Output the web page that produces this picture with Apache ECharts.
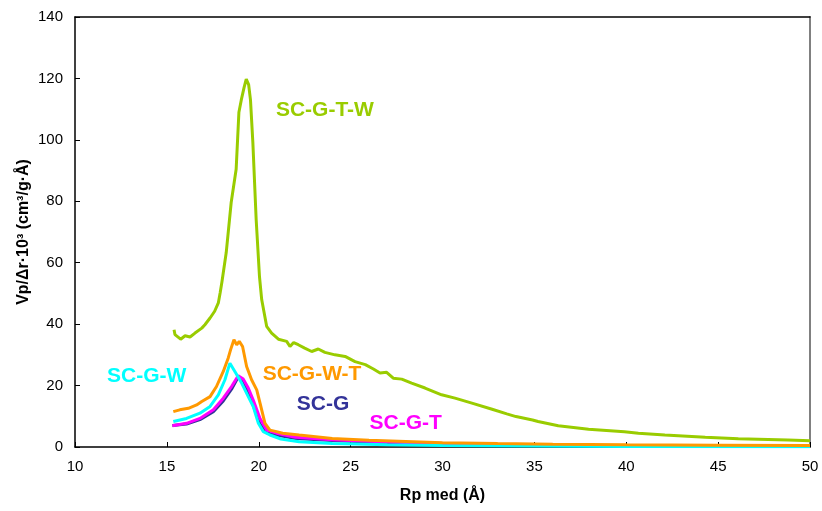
<!DOCTYPE html>
<html>
<head>
<meta charset="utf-8">
<script src="https://cdn.jsdelivr.net/npm/echarts@6/dist/echarts.min.js"></script>
<style>html,body{margin:0;padding:0;background:#fff}#c{width:822px;height:511px}</style>
</head>
<body>
<div id="c"></div>
<script>
// SC-G-T-W (green)
var gx = [15.39, 15.44, 15.75, 15.99, 16.26, 16.53, 16.9, 17.07, 17.35, 17.6, 17.8, 17.9, 18.0, 18.23, 18.5, 18.77, 18.92, 19.05, 19.2, 19.32, 19.45, 19.55, 19.68, 19.86, 20.04, 20.16, 20.43, 20.7, 21.07, 21.52, 21.7, 21.9, 22.15, 22.5, 22.88, 23.24, 23.6, 24.15, 24.7, 25.24, 25.8, 26.24, 26.6, 26.96, 27.32, 27.78, 28.32, 29.05, 29.95, 30.68, 31.6, 32.7, 33.5, 34.0, 34.9, 35.2, 36.3, 37.95, 39.9, 40.66, 42.1, 44.3, 46.1, 48.8, 50];
var gy = [38.2, 36.6, 35.1, 36.2, 35.8, 37.1, 38.7, 39.8, 42, 44.2, 46.9, 50.2, 53.9, 63.3, 79.6, 90.4, 109, 113, 117, 119.8, 118, 113, 99, 74, 55.5, 48, 39.3, 37.1, 35.1, 34.4, 32.7, 34.0, 33.3, 32.2, 31.1, 31.9, 30.8, 30.0, 29.5, 27.8, 26.8, 25.4, 24.1, 24.3, 22.4, 22.1, 20.8, 19.2, 17, 15.9, 14.3, 12.3, 10.8, 9.9, 8.8, 8.3, 6.9, 5.8, 5.0, 4.5, 3.9, 3.2, 2.7, 2.3, 2.0];
// SC-G-W-T (orange)
var ox = [15.35, 15.7, 16.17, 16.62, 16.9, 17.35, 17.7, 18.07, 18.34, 18.47, 18.65, 18.8, 18.94, 19.12, 19.34, 19.61, 19.89, 20.07, 20.34, 20.61, 20.97, 21.3, 22.2, 24.0, 26, 28, 30, 33, 36, 40, 45, 50];
var oy = [11.5, 12.1, 12.6, 13.7, 14.8, 16.4, 19.7, 24.6, 29, 31.7, 34.9, 33.3, 34.4, 32.7, 26.2, 21.9, 18.6, 14.3, 7.7, 5.5, 5.0, 4.5, 3.9, 2.8, 2.2, 1.8, 1.4, 1.1, 0.9, 0.7, 0.6, 0.5];
// SC-G-W (cyan)
var cx = [15.35, 16.07, 16.8, 17.35, 17.8, 18.16, 18.43, 18.52, 18.7, 19.07, 19.43, 19.7, 19.98, 20.25, 20.61, 21.2, 22.2, 24, 27, 30, 35, 40, 50];
var cy = [8.3, 9.3, 11.0, 13.2, 17, 21.9, 27.3, 27.8, 24.6, 20.8, 16.4, 13.2, 7.7, 5.0, 3.9, 2.6, 1.7, 1.1, 0.7, 0.5, 0.3, 0.2, 0.1];
// SC-G-T (magenta)
var mx = [15.3, 16.07, 16.8, 17.53, 18.07, 18.52, 18.88, 19.16, 19.43, 19.7, 20.07, 20.43, 20.97, 22, 24, 27, 30, 35, 40, 50];
var my = [6.9, 7.7, 9.3, 12.1, 15.9, 19.7, 23.2, 22.1, 19.2, 15.3, 9.3, 5.5, 4.5, 3.2, 2.4, 1.6, 1.1, 0.6, 0.4, 0.2];
// SC-G (navy)
var nx = [15.3, 16.07, 16.8, 17.53, 18.07, 18.52, 18.88, 19.1, 19.43, 19.7, 20.07, 20.43, 20.97, 22, 24, 27, 30, 35, 40, 50];
var ny = [7.0, 7.5, 8.9, 11.5, 15.0, 18.8, 22.8, 22.0, 18.0, 13.5, 7.5, 4.6, 3.9, 2.8, 2.1, 1.4, 0.9, 0.5, 0.3, 0.2];

var seriesNames = ['SC-G', 'SC-G-T', 'SC-G-W', 'SC-G-W-T', 'SC-G-T-W'];
var xTicks = [10, 15, 20, 25, 30, 35, 40, 45, 50];
var yTicks = [0, 20, 40, 60, 80, 100, 120, 140];

function pairs(xs, ys) { return xs.map(function (x, i) { return [x, ys[i]]; }); }

var FONT = '"Liberation Sans", Arial, sans-serif';
function mk(name, xs, ys, color, labelCoord) {
  return {
    name: name, type: 'line', data: pairs(xs, ys), showSymbol: false, symbol: 'none',
    lineStyle: { color: color, width: 3 }, itemStyle: { color: color }, animation: false,
    markPoint: {
      symbol: 'circle', symbolSize: 0, animation: false,
      data: [{ coord: labelCoord, value: name }],
      label: { show: true, position: 'inside', formatter: name, color: color,
        fontFamily: FONT, fontWeight: 'bold', fontSize: 21 }
    }
  };
}

var chart = echarts.init(document.getElementById('c'), null, { renderer: 'canvas' });
chart.setOption({
  backgroundColor: '#fff',
  animation: false,
  grid: { left: 75, right: 12, top: 17, bottom: 64, containLabel: false },
  xAxis: [{
    type: 'value', min: xTicks[0], max: xTicks[xTicks.length - 1], interval: 5,
    name: 'Rp med (Å)', nameLocation: 'middle', nameGap: 41,
    nameTextStyle: { fontFamily: FONT, fontWeight: 'bold', fontSize: 16, color: '#000' },
    axisLine: { show: true, lineStyle: { color: '#000', width: 1.5 } },
    axisTick: { show: true, inside: true, length: 5, lineStyle: { color: '#000' } },
    axisLabel: { margin: 12, fontFamily: FONT, fontSize: 15, color: '#000' },
    splitLine: { show: false }
  }, {
    type: 'value', position: 'top', min: 10, max: 50,
    axisLine: { show: true, onZero: false, lineStyle: { color: '#000', width: 1.5 } },
    axisTick: { show: false }, axisLabel: { show: false }, splitLine: { show: false }
  }],
  yAxis: [{
    type: 'value', min: yTicks[0], max: yTicks[yTicks.length - 1], interval: 20,
    name: 'Vp/Δr·10³ (cm³/g·Å)', nameLocation: 'middle', nameGap: 43, nameRotate: 90,
    nameMoveOverlap: false,
    nameTextStyle: { fontFamily: FONT, fontWeight: 'bold', fontSize: 16, color: '#000' },
    axisLine: { show: true, lineStyle: { color: '#000', width: 1.5 } },
    axisTick: { show: true, inside: true, length: 5, lineStyle: { color: '#000' } },
    axisLabel: { margin: 12, fontFamily: FONT, fontSize: 15, color: '#000' },
    splitLine: { show: false }
  }, {
    type: 'value', position: 'right', min: 0, max: 140,
    axisLine: { show: true, onZero: false, lineStyle: { color: '#808080', width: 2 } },
    axisTick: { show: false }, axisLabel: { show: false }, splitLine: { show: false }
  }],
  series: [
    mk(seriesNames[0], nx, ny, '#333399', [23.5, 14.0]),
    mk(seriesNames[1], mx, my, '#FF00FF', [28.0, 7.8]),
    mk(seriesNames[2], cx, cy, '#00FFFF', [13.9, 23.2]),
    mk(seriesNames[3], ox, oy, '#FF9900', [22.9, 23.8]),
    mk(seriesNames[4], gx, gy, '#99CC00', [23.6, 109.7])
  ]
});
</script>
</body>
</html>
